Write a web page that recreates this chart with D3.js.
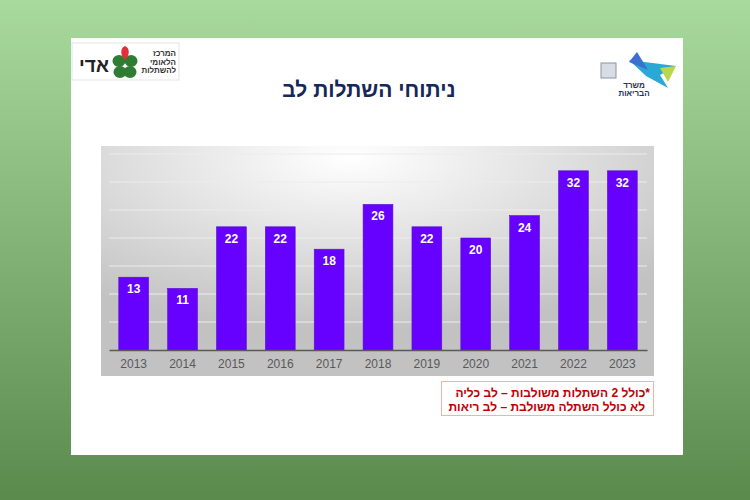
<!DOCTYPE html>
<html lang="he">
<meta charset="utf-8">
<script src="https://cdn.jsdelivr.net/npm/d3@7"></script>
<style>
  body { margin: 0; }
  svg { display: block; font-family: "Liberation Sans", Arial, sans-serif; }
</style>
<body>
<svg id="chart" width="750" height="500"></svg>
<script>
// chart data
var years = ["2013","2014","2015","2016","2017","2018","2019","2020","2021","2022","2023"];
var transplants = [13, 11, 22, 22, 18, 26, 22, 20, 24, 32, 32];
var gridTicks = [5, 10, 15, 20, 25, 30, 35];
var title = "ניתוחי השתלות לב";
var noteLines = ["*כולל 2 השתלות משולבות – לב כליה", "לא כולל השתלה משולבת – לב ריאות"];

var svg = d3.select("#chart");
var defs = svg.append("defs");

// page background
var bg = defs.append("linearGradient").attr("id", "bg").attr("x1", 0).attr("y1", 0).attr("x2", 0).attr("y2", 1);
bg.append("stop").attr("offset", "0%").attr("stop-color", "#a9da9d");
bg.append("stop").attr("offset", "100%").attr("stop-color", "#5b8a4d");
svg.append("rect").attr("width", 750).attr("height", 500).attr("fill", "url(#bg)");

// slide
svg.append("rect").attr("x", 71).attr("y", 38).attr("width", 612).attr("height", 417).attr("fill", "#ffffff");

// title
svg.append("text")
  .attr("x", 369).attr("y", 97)
  .attr("text-anchor", "middle")
  .attr("direction", "rtl")
  .attr("font-size", 21).attr("font-weight", "bold")
  .attr("fill", "#16275a")
  .text(title);

// left logo (ADI)
var logoL = svg.append("g");
logoL.append("rect").attr("x", 72).attr("y", 43).attr("width", 107).attr("height", 37)
  .attr("fill", "#fff").attr("stroke", "#e4e4e4");
logoL.append("text").attr("x", 94).attr("y", 72).attr("text-anchor", "middle")
  .attr("font-size", 19).attr("font-weight", "bold").attr("fill", "#222").text("אדי");
[[-6, -3], [6, -3], [-5, 8], [5, 8]].forEach(function(p) {
  logoL.append("ellipse").attr("cx", 125 + p[0]).attr("cy", 64 + p[1]).attr("rx", 6.5).attr("ry", 6)
    .attr("fill", "#2f7d32");
});
logoL.append("path").attr("d", "M125,60 C120,55 120,48 125,46 C130,48 130,55 125,60 Z").attr("fill", "#e0303a");
["המרכז", "הלאומי", "להשתלות"].forEach(function(t, i) {
  logoL.append("text").attr("x", 176).attr("y", 56 + i * 8.5).attr("text-anchor", "end")
    .attr("font-size", 8).attr("font-weight", "bold").attr("fill", "#333").text(t);
});

// right logo (Ministry of Health)
var logoR = svg.append("g");
logoR.append("rect").attr("x", 601).attr("y", 63).attr("width", 15).attr("height", 15)
  .attr("fill", "#d8dce4").attr("stroke", "#8a93a6");
logoR.append("path").attr("d", "M629,60 L676,66 L660,75 L668,88 L646,76 Z").attr("fill", "#2aa9d6");
logoR.append("path").attr("d", "M637,52 L648,70 L629,62 Z").attr("fill", "#3c6fd0");
logoR.append("path").attr("d", "M660,68 L676,66 L668,82 Z").attr("fill", "#b9d74a");
logoR.append("text").attr("x", 634).attr("y", 88).attr("text-anchor", "middle")
  .attr("font-size", 8).attr("font-weight", "bold").attr("fill", "#26305c").text("משרד");
logoR.append("text").attr("x", 634).attr("y", 96).attr("text-anchor", "middle")
  .attr("font-size", 8).attr("font-weight", "bold").attr("fill", "#26305c").text("הבריאות");

// chart panel
var panel = defs.append("radialGradient").attr("id", "panel")
  .attr("cx", "45%").attr("cy", "5%").attr("r", "75%").attr("fx", "45%").attr("fy", "5%");
panel.append("stop").attr("offset", "0%").attr("stop-color", "#ffffff");
panel.append("stop").attr("offset", "100%").attr("stop-color", "#c2c2c2");
svg.append("rect").attr("x", 101).attr("y", 146).attr("width", 553).attr("height", 230).attr("fill", "url(#panel)");

var x = d3.scaleBand().domain(years).range([109, 647]).paddingInner(0.39).paddingOuter(0.2);
var y = d3.scaleLinear().domain([0, 35]).range([350, 154]);

// gridlines
svg.append("g").selectAll("line").data(gridTicks).join("line")
  .attr("x1", 109).attr("x2", 647)
  .attr("y1", d => y(d)).attr("y2", d => y(d))
  .attr("stroke", "#ececec").attr("stroke-width", 1);

// bars
svg.append("g").selectAll("rect").data(transplants).join("rect")
  .attr("x", (d, i) => x(years[i]))
  .attr("y", d => y(d))
  .attr("width", x.bandwidth())
  .attr("height", d => y(0) - y(d))
  .attr("fill", "#6600ff")
  .attr("stroke", "#5a10c8").attr("stroke-width", 0.6);

// value labels
svg.append("g").selectAll("text").data(transplants).join("text")
  .attr("x", (d, i) => x(years[i]) + x.bandwidth() / 2)
  .attr("y", d => y(d) + 16)
  .attr("text-anchor", "middle")
  .attr("font-size", 12).attr("font-weight", "bold")
  .attr("fill", "#ffffff")
  .text(d => d);

// x axis
var xAxis = svg.append("g").attr("transform", "translate(0,350)")
  .call(d3.axisBottom(x).tickSize(0).tickPadding(9));
xAxis.select(".domain").attr("stroke", "#595959").attr("stroke-width", 1.5);
xAxis.selectAll("text").attr("font-size", 12).attr("fill", "#595959")
  .attr("font-family", "'Liberation Sans', Arial, sans-serif");

// note box
svg.append("rect").attr("x", 441.5).attr("y", 381.5).attr("width", 212).attr("height", 34)
  .attr("fill", "#ffffff").attr("stroke", "#f2b4a2");
svg.append("g").selectAll("text").data(noteLines).join("text")
  .attr("x", (d, i) => i === 0 ? 650 : 645).attr("y", (d, i) => 397 + i * 14)
  .attr("text-anchor", "start").attr("direction", "rtl")
  .attr("font-size", 12).attr("font-weight", "bold")
  .attr("fill", "#c00000")
  .text(d => d);
</script>
</body>
</html>
